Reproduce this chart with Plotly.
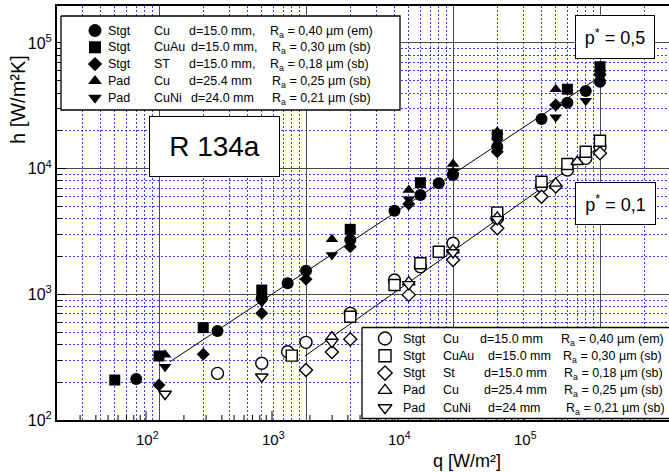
import math
import plotly.graph_objects as go

# ---------------- data: p* = 0.5 (filled symbols) ----------------
q05_stgt_cu   = [70, 250, 500, 750, 1000, 2000, 4000, 6000, 8000, 10000, 20000, 40000, 60000, 80000, 100000]
h05_stgt_cu   = [212, 511, 930, 1224, 1542, 2706, 4634, 6166, 7640, 8900, 14960, 24830, 33500, 41500, 49200]
q05_stgt_cuau = [50, 100, 200, 500, 2000, 6000, 20000, 60000, 100000]
h05_stgt_cuau = [208, 323, 543, 1082, 3289, 7727, 18540, 42850, 64700]
q05_stgt_st   = [100, 200, 500, 1000, 2000, 5000, 10000, 20000, 50000, 100000]
h05_stgt_st   = [190, 333, 706, 1318, 2393, 5237, 9200, 13650, 32140, 55600]
q05_pad_cu    = [110, 500, 1500, 5000, 10000, 20000, 50000, 100000]
h05_pad_cu    = [330, 950, 2742, 6761, 10900, 19680, 42850, 59600]
q05_pad_cuni  = [110, 500, 1500, 5000, 10000, 20000, 50000, 80000, 100000]
h05_pad_cuni  = [265, 868, 2056, 5700, 9500, 16500, 25650, 34750, 58000]

# ---------------- data: p* = 0.1 (open symbols) ----------------
q01_stgt_cu   = [250, 500, 750, 1000, 2000, 4000, 6000, 10000, 20000, 40000, 60000, 80000, 100000]
h01_stgt_cu   = [235, 283, 349, 415, 706, 1300, 1660, 2547, 4026, 7280, 9750, 12080, 14960]
q01_stgt_cuau = [800, 2000, 4000, 6000, 8000, 20000, 40000, 60000, 80000, 100000]
h01_stgt_cuau = [325, 664, 1186, 1766, 2183, 4470, 7870, 10890, 13650, 16670]
q01_stgt_st   = [1000, 1500, 2000, 5000, 10000, 20000, 40000, 50000, 100000]
h01_stgt_st   = [250, 348, 440, 990, 1875, 3350, 5980, 7200, 13240]
q01_pad_cu    = [1500, 5000, 10000, 20000, 50000, 70000]
h01_pad_cu    = [457, 1250, 2250, 4100, 7640, 11350]
q01_pad_cuni  = [110, 500, 1500, 5000, 10000, 20000]
h01_pad_cuni  = [161, 221, 417, 1200, 2150, 3950]

# ---------------- fit lines ----------------
q_fit_05 = [119, 92500]
h_fit_05 = [291, 50800]
q_fit_01 = [985, 100000]
h_fit_01 = [323, 14960]

# ---------------- legend texts ----------------
leg_place  = ["Stgt", "Stgt", "Stgt", "Pad", "Pad"]
leg_mat_05 = ["Cu", "CuAu", "ST", "Cu", "CuNi"]
leg_d_05   = ["d=15.0 mm,", "d=15.0 mm,", "d=15.0 mm,", "d=25.4 mm", "d=24.0 mm"]
leg_mat_01 = ["Cu", "CuAu", "St", "Cu", "CuNi"]
leg_d_01   = ["d=15.0 mm", "d=15.0 mm", "d=15.0 mm", "d=25.4 mm", "d=24 mm"]
leg_ra     = ["0,40 µm (em)", "0,30 µm (sb)", "0,18 µm (sb)", "0,25 µm (sb)", "0,21 µm (sb)"]

x_ticks = [1e2, 1e3, 1e4, 1e5]
x_tick_text = ["10<sup>2</sup>", "10<sup>3</sup>", "10<sup>4</sup>", "10<sup>5</sup>"]
y_ticks = [1e2, 1e3, 1e4, 1e5]
y_tick_text = ["10<sup>2</sup>", "10<sup>3</sup>", "10<sup>4</sup>", "10<sup>5</sup>"]

# ---------------- layout geometry (pixels) ----------------
W, H = 669, 472
PL, PR, PT, PB = 57, 669, 6, 420
FONT = "Liberation Sans, Arial, sans-serif"

def fx(p):
    return (p - PL) / (PR - PL)

def fy(p):
    return (PB - p) / (PB - PT)

# data axis: 10^2 at px 159, 147 px per decade
x_data_range = [2 - (159 - PL) / 147.0, 2 + (PR - 159) / 147.0]
y_range = [2, 2 + (PB - PT) / 125.67]

# the printed q scale of the original figure: 10^2 at px 146, 126 px per decade
def lab_px(v):
    return 146 + 126 * (math.log10(v) - 2)

symbols = ["circle", "square", "diamond", "triangle-up", "triangle-down"]
sizes = [12, 11, 10, 11, 11]

series05 = [(q05_stgt_cu, h05_stgt_cu), (q05_stgt_cuau, h05_stgt_cuau), (q05_stgt_st, h05_stgt_st),
            (q05_pad_cu, h05_pad_cu), (q05_pad_cuni, h05_pad_cuni)]
series01 = [(q01_stgt_cu, h01_stgt_cu), (q01_stgt_cuau, h01_stgt_cuau), (q01_stgt_st, h01_stgt_st),
            (q01_pad_cu, h01_pad_cu), (q01_pad_cuni, h01_pad_cuni)]

fig = go.Figure()

# fit lines
for qf, hf in [(q_fit_05, h_fit_05), (q_fit_01, h_fit_01)]:
    fig.add_trace(go.Scatter(x=qf, y=hf, mode="lines", line=dict(color="black", width=1),
                             showlegend=False, hoverinfo="skip"))

for i, (q, h) in enumerate(series05):
    fig.add_trace(go.Scatter(x=q, y=h, mode="markers", showlegend=False,
                             marker=dict(symbol=symbols[i], size=sizes[i], color="black",
                                         line=dict(width=0))))
for i, (q, h) in enumerate(series01):
    fig.add_trace(go.Scatter(x=q, y=h, mode="markers", showlegend=False,
                             marker=dict(symbol=symbols[i], size=sizes[i], color="white",
                                         line=dict(width=1.4, color="black"))))

# ---------------- printed q-scale tick marks on the bottom frame ----------------
tx, ty = [], []
for n in range(1, 7):
    for k in range(1, 10):
        p = lab_px(k * 10 ** n)
        if PL + 1 < p < PR:
            ln = 9 if k == 1 else 5
            tx += [fx(p), fx(p), None]
            ty += [fy(PB), fy(PB - ln), None]
fig.add_trace(go.Scatter(x=tx, y=ty, xaxis="x3", yaxis="y3", mode="lines",
                         line=dict(color="black", width=1), showlegend=False, hoverinfo="skip"))

# ---------------- legend boxes (overlay axis in plot-fraction units) ----------------
def box(x0, y0, x1, y1):
    fig.add_trace(go.Scatter(x=[fx(x0), fx(x1), fx(x1), fx(x0), fx(x0)],
                             y=[fy(y0), fy(y0), fy(y1), fy(y1), fy(y0)],
                             xaxis="x3", yaxis="y3", mode="lines", fill="toself",
                             fillcolor="white", line=dict(color="black", width=1.3),
                             showlegend=False, hoverinfo="skip"))

box(61, 16, 400, 110)
box(362, 327.5, 690, 418.5)

rows1 = [30.5, 47.3, 64.1, 80.9, 97.7]
rows2 = [338.5, 355.8, 373.1, 390.4, 407.7]

for i in range(5):
    fig.add_trace(go.Scatter(x=[fx(95)], y=[fy(rows1[i])], xaxis="x3", yaxis="y3", mode="markers",
                             marker=dict(symbol=symbols[i], size=sizes[i] + 1, color="black",
                                         line=dict(width=0)),
                             showlegend=False, hoverinfo="skip"))
    fig.add_trace(go.Scatter(x=[fx(385)], y=[fy(rows2[i])], xaxis="x3", yaxis="y3", mode="markers",
                             marker=dict(symbol=symbols[i], size=sizes[i] + 1, color="white",
                                         line=dict(width=1.4, color="black")),
                             showlegend=False, hoverinfo="skip"))

annotations = []

def txt(x, y, s, size=12.5, xanchor="left", **kw):
    d = dict(x=fx(x), y=fy(y), xref="paper", yref="paper", text=s, showarrow=False,
             xanchor=xanchor, yanchor="middle", font=dict(family=FONT, size=size, color="black"))
    d.update(kw)
    annotations.append(d)

col3_1 = [187, 189, 187, 187, 189]
col4_1 = [268, 270, 268, 270, 270]
col3_2 = [478, 486, 481.5, 481.5, 486]
col4_2 = [559, 561, 562, 562, 564]
for i in range(5):
    txt(106, rows1[i], leg_place[i])
    txt(151.5, rows1[i], leg_mat_05[i])
    txt(col3_1[i], rows1[i], leg_d_05[i])
    txt(col4_1[i], rows1[i] + 1, "R<sub>a</sub> = " + leg_ra[i])
    txt(400.5, rows2[i], leg_place[i])
    txt(440.5, rows2[i], leg_mat_01[i])
    txt(col3_2[i], rows2[i], leg_d_01[i])
    txt(col4_2[i], rows2[i] + 1, "R<sub>a</sub> = " + leg_ra[i])

# printed q tick labels
for v, s in zip(x_ticks, x_tick_text):
    txt(lab_px(v) + 1, 438, s, size=15, xanchor="center")

# labelled boxes
txt(214.3, 147, "R 134a", size=28, xanchor="center", bordercolor="black", borderwidth=1,
    bgcolor="white", width=127, height=57, borderpad=1)
txt(615, 36.7, "p<sup>*</sup> = 0,5", size=18, xanchor="center", bordercolor="black",
    borderwidth=1, bgcolor="white", width=76, height=40, borderpad=1)
txt(615, 203, "p<sup>*</sup> = 0,1", size=18, xanchor="center", bordercolor="black",
    borderwidth=1, bgcolor="white", width=77, height=39, borderpad=1)

# axis titles
txt(467, 461, "q [W/m²]", size=18, xanchor="center")
txt(18, 100, "h [W/m²K]", size=20, xanchor="center", textangle=-90)

GRID_MAJOR = "#4a4a4a"
GRID_MINOR = "#3b3bff"

fig.update_layout(
    width=W, height=H,
    margin=dict(l=PL, r=W - PR, t=PT, b=H - PB),
    paper_bgcolor="white", plot_bgcolor="white",
    font=dict(family=FONT, color="black"),
    annotations=annotations,
    xaxis=dict(type="log", range=x_data_range, showticklabels=False, ticks="",
               showline=True, linecolor="black", linewidth=2, mirror=True,
               zeroline=False, dtick=1,
               showgrid=True, gridcolor=GRID_MAJOR, gridwidth=1,
               minor=dict(dtick="D1", showgrid=True, gridcolor=GRID_MINOR, griddash="2px,2px",
                          gridwidth=1, ticks="")),
    yaxis=dict(type="log", range=y_range, tickvals=y_ticks, ticktext=y_tick_text,
               showgrid=True, gridcolor=GRID_MAJOR, gridwidth=1, zeroline=False,
               ticks="inside", ticklen=9, tickcolor="black",
               showline=True, linecolor="black", linewidth=2, mirror=False,
               layer="below traces",
               tickfont=dict(family=FONT, size=16, color="black"),
               minor=dict(dtick="D1", ticks="inside", ticklen=5, tickcolor="black",
                          showgrid=True, gridcolor=GRID_MINOR, griddash="2px,2px", gridwidth=1)),
    xaxis3=dict(overlaying="x", anchor="y3", range=[0, 1], visible=False, fixedrange=True),
    yaxis3=dict(overlaying="y", anchor="x3", range=[0, 1], visible=False, fixedrange=True),
    showlegend=False,
)

fig.write_html("out.html")
